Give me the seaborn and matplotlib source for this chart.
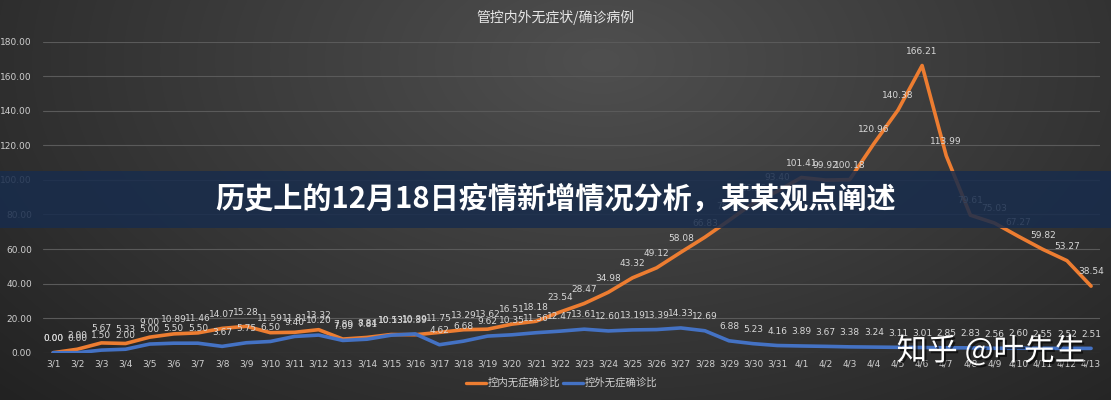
import numpy as np
import pandas as pd
import seaborn as sns
import matplotlib.pyplot as plt
import matplotlib.patheffects as pe
from matplotlib.patches import Rectangle

dates = ["3/%d" % d for d in range(1, 32)] + ["4/%d" % d for d in range(1, 14)]
inside = [0.00, 2.00, 5.67, 5.33, 9.00, 10.89, 11.46, 14.07, 15.28, 11.59, 11.81, 13.32,
          7.89, 8.84, 10.53, 10.39, 11.75, 13.29, 13.62, 16.51, 18.18, 23.54, 28.47,
          34.98, 43.32, 49.12, 58.08, 66.83, 76.56, 86.56, 93.40, 101.41, 99.92, 100.18,
          120.96, 140.38, 166.21, 113.99, 79.61, 75.03, 67.27, 59.82, 53.27, 38.54]
outside = [0.00, 0.00, 1.50, 2.00, 5.00, 5.50, 5.50, 3.67, 5.75, 6.50, 9.40, 10.20,
           7.09, 7.81, 10.13, 10.89, 4.62, 6.68, 9.62, 10.35, 11.56, 12.47, 13.61,
           12.60, 13.19, 13.39, 14.33, 12.69, 6.88, 5.23, 4.16, 3.89, 3.67, 3.38,
           3.24, 3.11, 3.01, 2.85, 2.83, 2.56, 2.60, 2.55, 2.52, 2.51]
series_names = ["控内无症确诊比", "控外无症确诊比"]
y_ticks = [0, 20, 40, 60, 80, 100, 120, 140, 160, 180]

sns.set_style("dark")
plt.rcParams["font.family"] = ["Noto Sans CJK SC", "DejaVu Sans"]

df = pd.DataFrame({"idx": list(range(len(dates))) * 2,
                   "value": inside + outside,
                   "series": [series_names[0]] * len(dates) + [series_names[1]] * len(dates)})

fig = plt.figure(figsize=(11.11, 4.0), dpi=100)

# background gradient
bg = fig.add_axes([0, 0, 1, 1], zorder=0)
yy, xx = np.mgrid[0:400, 0:1111]
r = np.sqrt(((xx - 600) / 700.0) ** 2 + ((yy - 60) / 420.0) ** 2)
shade = np.clip(0.31 - 0.15 * r, 0.12, 0.31)
bg.imshow(np.dstack([shade, shade, shade]), aspect="auto", extent=[0, 1, 0, 1])
bg.set_axis_off()

ax = fig.add_axes([43 / 1111, 47.3 / 400, 1057 / 1111, 311 / 400], zorder=1)
ax.set_facecolor("none")
palette = {series_names[0]: "#ED7D31", series_names[1]: "#4472C4"}
sns.lineplot(data=df, x="idx", y="value", hue="series", palette=palette, lw=2.6,
             ax=ax, legend=False, solid_capstyle="round")

for vals in (inside, outside):
    for i, v in enumerate(vals):
        ax.annotate("%.2f" % v, (i, v), xytext=(0, 7), textcoords="offset points",
                    ha="center", va="bottom", fontsize=6.5, color="#d8d8d8",
                    family="DejaVu Sans")

ax.set_xlim(-0.42, 43.37)
ax.set_ylim(0, 180)
ax.set_yticks(y_ticks)
ax.set_yticklabels(["%.2f" % t for t in y_ticks], fontsize=6.5, color="#cfcfcf",
                   family="DejaVu Sans")
ax.set_xticks(range(len(dates)))
ax.set_xticklabels(dates, fontsize=6.5, color="#cfcfcf", family="DejaVu Sans")
ax.tick_params(length=0, pad=5)
ax.tick_params(axis="y", pad=8)
ax.grid(axis="y", color="#5a5a5a", lw=0.8)
ax.grid(axis="x", visible=False)
ax.set_xlabel("")
ax.set_ylabel("")
for s in ax.spines.values():
    s.set_visible(False)

fig.text(0.5, 1 - 17 / 400, "管控内外无症状/确诊病例", ha="center", va="center",
         fontsize=10, color="#e6e6e6")

# legend
ly = 1 - 383 / 400
for x0, name, c in [(466, series_names[0], "#ED7D31"), (563, series_names[1], "#4472C4")]:
    fig.lines.append(plt.Line2D([x0 / 1111, (x0 + 20) / 1111], [ly, ly], color=c, lw=2.4,
                                transform=fig.transFigure))
    fig.text((x0 + 22) / 1111, ly, name, ha="left", va="center", fontsize=7.5, color="#cfcfcf")

# banner overlay
fig.patches.append(Rectangle((0, 1 - 228.3 / 400), 1, 57.6 / 400, transform=fig.transFigure,
                             facecolor="#182c4c", edgecolor="none", linewidth=0,
                             alpha=0.86, zorder=5))
fig.text(0.5, 1 - 199 / 400, "历史上的12月18日疫情新增情况分析，某某观点阐述", ha="center",
         va="center", fontsize=21, fontweight="bold", color="white", zorder=6)

fig.text(1085 / 1111, 1 - 351 / 400, "知乎 @叶先生", ha="right", va="center", fontsize=22,
         color="white", zorder=6,
         path_effects=[pe.withSimplePatchShadow(offset=(1.5, -1.5), shadow_rgbFace="black", alpha=0.6)])

fig.savefig("out.png", dpi=100)
